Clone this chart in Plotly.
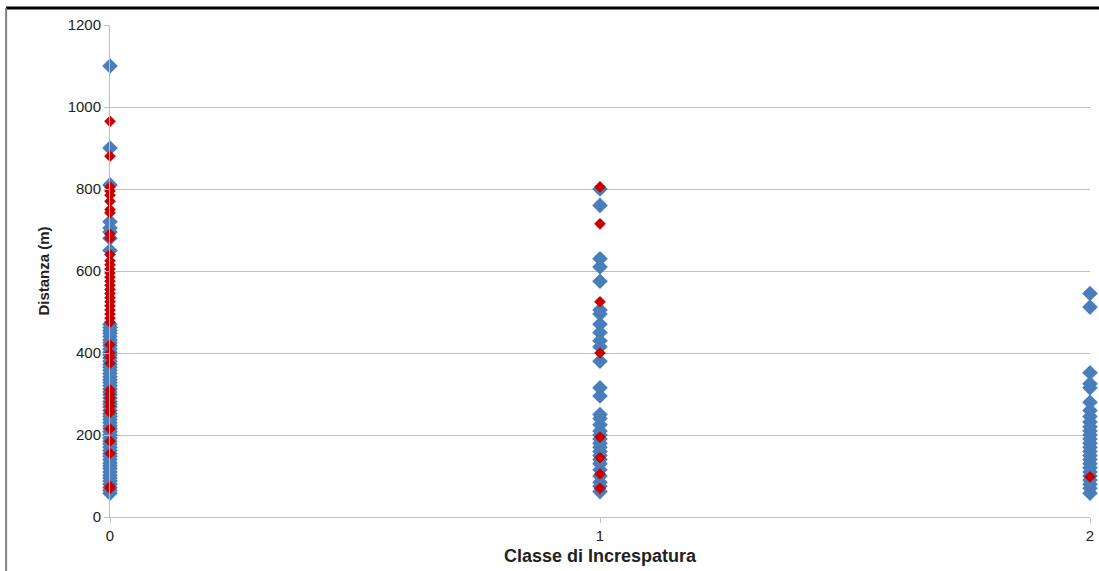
import plotly.graph_objects as go

# Blue series (classe, distanza)
blue_c0 = [1100, 900, 810, 720, 705, 695, 680, 650,
           470, 462, 455, 448, 440, 432, 425, 418, 410, 402, 395, 388, 380, 372,
           365, 358, 350, 342, 335, 328, 320, 312, 305, 298, 290, 282, 275, 268,
           260, 252, 245, 238, 230, 222, 215, 208, 200, 192, 185, 178, 170, 162,
           155, 148, 140, 132, 125, 118, 110, 102, 95, 88, 80, 72, 65, 58]
blue_c1 = [800, 760, 630, 610, 575, 505, 495, 470, 450, 430, 415, 380, 315, 295,
           250, 240, 225, 210, 200, 190, 180, 170, 160, 150, 140, 130, 115, 100,
           85, 75, 62]
blue_c2 = [545, 512, 352, 325, 315, 280, 260, 245, 232, 220, 210, 200, 190, 180,
           170, 160, 150, 140, 130, 120, 110, 100, 90, 80, 70, 58]

# Red series
red_c0 = [965, 880, 805, 795, 785, 770, 750, 742, 690, 680, 640, 625, 615, 605,
          595, 585, 575, 565, 555, 545, 535, 525, 515, 505, 495, 485, 475, 420,
          400, 390, 375, 310, 300, 290, 280, 270, 260, 255, 215, 185, 155, 75, 70]
red_c1 = [805, 715, 525, 400, 195, 145, 105, 70]
red_c2 = [98]

blue_x = [0] * len(blue_c0) + [1] * len(blue_c1) + [2] * len(blue_c2)
blue_y = blue_c0 + blue_c1 + blue_c2
red_x = [0] * len(red_c0) + [1] * len(red_c1) + [2] * len(red_c2)
red_y = red_c0 + red_c1 + red_c2

fig = go.Figure()
fig.add_trace(go.Scatter(x=blue_x, y=blue_y, mode="markers", cliponaxis=False,
                         marker=dict(symbol="diamond", size=12, color="#4A7EBB",
                                     line=dict(width=0)), showlegend=False))
fig.add_trace(go.Scatter(x=red_x, y=red_y, mode="markers", cliponaxis=False,
                         marker=dict(symbol="diamond", size=9, color="#C80000",
                                     line=dict(width=0)), showlegend=False))

font = dict(family="Liberation Sans, Arial, sans-serif", size=15, color="#222222")

fig.update_layout(
    width=1099, height=571,
    margin=dict(l=110, r=9, t=25, b=54),
    paper_bgcolor="white", plot_bgcolor="white",
    font=font,
    xaxis=dict(range=[0, 2], tickvals=[0, 1, 2], showgrid=False, zeroline=False,
               automargin=False,
               showline=True, linecolor="#BFBFBF", linewidth=1,
               ticks="outside", ticklen=5, tickcolor="#BFBFBF",
               title=dict(text="<b>Classe di Increspatura</b>", font=dict(size=18, color="#222222"),
                          standoff=6)),
    yaxis=dict(range=[0, 1200], tickvals=[0, 200, 400, 600, 800, 1000, 1200],
               automargin=False,
               showgrid=True, gridcolor="#BFBFBF", gridwidth=1, zeroline=False,
               showline=True, linecolor="#BFBFBF", linewidth=1,
               ticks="outside", ticklen=5, tickcolor="#BFBFBF",
               title=dict(text="<b>Distanza (m)</b>", font=dict(size=15, color="#222222"),
                          standoff=14)),
    shapes=[
        dict(type="line", xref="paper", yref="paper", x0=-0.106, x1=1.01, y0=1.0346, y1=1.0346,
             line=dict(color="black", width=3)),
        dict(type="line", xref="paper", yref="paper", x0=-0.106, x1=-0.106, y0=1.0346, y1=-0.12,
             line=dict(color="#808080", width=2)),
    ],
)

fig.write_html("out.html")
